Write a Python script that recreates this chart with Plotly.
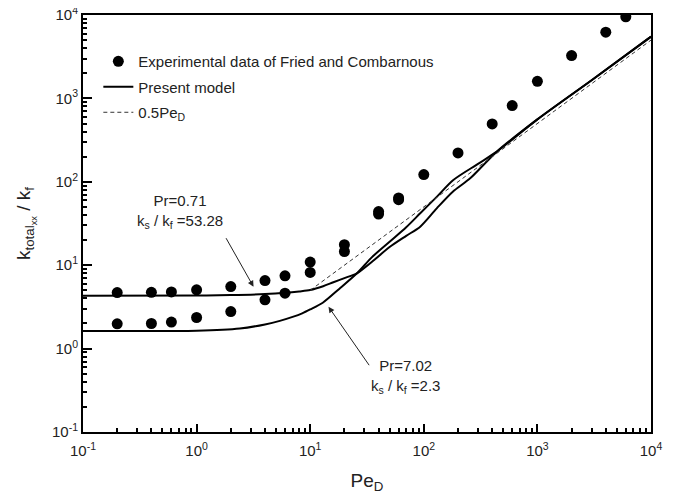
import plotly.graph_objects as go

# Experimental data (Fried and Combarnous)
pe_exp_071 = [0.2, 0.4, 0.6, 1, 2, 4, 6, 10, 20, 40, 60, 100, 200, 400, 600, 1000, 2000, 4000, 6000]
k_exp_071 = [4.7, 4.73, 4.78, 5.07, 5.55, 6.55, 7.46, 10.9, 17.6, 44, 64, 122, 222, 494, 820, 1603, 3266, 6220, 9510]
pe_exp_702 = [0.2, 0.4, 0.6, 1, 2, 4, 6, 10, 20, 40, 60]
k_exp_702 = [1.98, 2.0, 2.08, 2.36, 2.78, 3.84, 4.62, 8.18, 14.6, 41, 61]

# Present model curves
pe_model_071 = [0.1, 1, 2, 4, 6, 8, 10, 13, 16, 20, 25.8, 35, 50, 70, 93, 130, 180, 256, 439, 1000, 3000, 10000]
k_model_071 = [4.31, 4.33, 4.38, 4.5, 4.66, 4.85, 5.05, 5.6, 6.25, 7.0, 8.0, 11.0, 16.5, 22.5, 29, 48, 76, 110, 230, 560, 1650, 5500]
pe_model_702 = [0.1, 1, 2.4, 4, 5.4, 7, 8.5, 10, 12.9, 18, 25.8, 35, 50, 70, 93, 130, 182, 300, 439, 1000, 3000, 10000]
k_model_702 = [1.63, 1.64, 1.74, 1.95, 2.15, 2.4, 2.65, 2.95, 3.55, 5.2, 8.0, 12.5, 19.1, 28.5, 41.9, 66, 105, 164, 230, 560, 1650, 5500]

# 0.5 Pe_D line
pe_half = [10, 10000]
k_half = [0.5 * p for p in pe_half]

major_vals = [0.1, 1, 10, 100, 1000, 10000]
major_text = ["10<sup>-1</sup>", "10<sup>0</sup>", "10<sup>1</sup>", "10<sup>2</sup>", "10<sup>3</sup>", "10<sup>4</sup>"]
minor_vals = [m * 10.0 ** e for e in range(-1, 4) for m in range(2, 10)]

FONT = "Liberation Sans, Arial, sans-serif"
TXT = "#222222"

fig = go.Figure()
fig.add_trace(go.Scatter(x=pe_exp_071, y=k_exp_071, mode="markers",
                         marker=dict(color="black", size=11),
                         name="Experimental data of Fried and Combarnous", legendgroup="a"))
fig.add_trace(go.Scatter(x=pe_exp_702, y=k_exp_702, mode="markers",
                         marker=dict(color="black", size=11), showlegend=False, legendgroup="a"))
fig.add_trace(go.Scatter(x=pe_model_071, y=k_model_071, mode="lines",
                         line=dict(color="black", width=2, shape="spline", smoothing=0.8),
                         name="Present model", legendgroup="b"))
fig.add_trace(go.Scatter(x=pe_model_702, y=k_model_702, mode="lines",
                         line=dict(color="black", width=2, shape="spline", smoothing=0.8),
                         showlegend=False, legendgroup="b"))
fig.add_trace(go.Scatter(x=pe_half, y=k_half, mode="lines",
                         line=dict(color="#333333", width=1, dash="4px,3px"),
                         name="0.5Pe<sub>D</sub>", legendgroup="c"))

axis_common = dict(
    type="log", showgrid=False, zeroline=False, automargin=False,
    showline=True, linecolor="black", linewidth=2, mirror=True,
    ticks="inside", tickcolor="black", tickwidth=1.5,
    tickvals=major_vals, ticktext=major_text, ticklabeloverflow="allow",
    tickfont=dict(family=FONT, size=15, color=TXT),
    minor=dict(ticks="inside", ticklen=4, tickwidth=1.5, tickcolor="black", tickvals=minor_vals),
)

fig.update_xaxes(**axis_common, range=[-1, 4], ticklen=8, ticklabelstandoff=4,
                 title=dict(text="Pe<sub>D</sub>", font=dict(family=FONT, size=19, color=TXT), standoff=19))
fig.update_yaxes(**axis_common, range=[-1, 4], ticklen=9,
                 title=dict(text="k<sub>total<sub>xx</sub></sub> / k<sub>f</sub>",
                            font=dict(family=FONT, size=19, color=TXT), standoff=16))

ann_font = dict(family=FONT, size=15, color=TXT)
fig.add_annotation(x=-0.144, y=1.638, xref="x", yref="y", showarrow=False,
                   text="Pr=0.71<br>k<sub>s</sub> / k<sub>f</sub> =53.28", font=ann_font, align="center")
fig.add_annotation(x=1.836, y=-0.329, xref="x", yref="y", showarrow=False,
                   text="Pr=7.02<br>k<sub>s</sub> / k<sub>f</sub> =2.3", font=ann_font, align="center")
fig.add_annotation(x=0.501, y=0.742, ax=0.252, ay=1.342, xref="x", yref="y", axref="x", ayref="y",
                   text="", showarrow=True, arrowhead=2, arrowsize=1.2, arrowwidth=1, arrowcolor="#222")
fig.add_annotation(x=1.161, y=0.502, ax=1.528, ay=-0.217, xref="x", yref="y", axref="x", ayref="y",
                   text="", showarrow=True, arrowhead=2, arrowsize=1.2, arrowwidth=1, arrowcolor="#222")

fig.update_layout(
    width=668, height=486,
    margin=dict(l=75, r=25, t=7, b=62),
    paper_bgcolor="white", plot_bgcolor="white",
    font=dict(family=FONT, color=TXT),
    legend=dict(x=0.027, y=0.928, xanchor="left", yanchor="top",
                bgcolor="rgba(0,0,0,0)", font=dict(family=FONT, size=15, color=TXT),
                tracegroupgap=3),
)

fig.write_html("out.html")
